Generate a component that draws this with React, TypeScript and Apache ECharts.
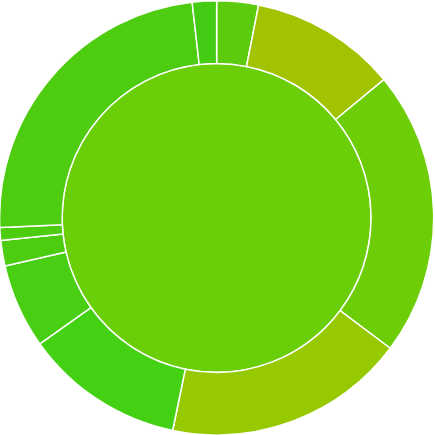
import React, { useEffect, useRef } from "react";
import * as echarts from "echarts";

const rootName = "Total";
const categories = ["A", "B", "C", "D", "E", "F", "G", "H", "I", "J"];
const values = [3.1, 10.9, 21.25, 18.0, 11.9, 6.3, 1.9, 0.95, 23.9, 1.8];
const ringColors = [
  "#5dcb0d",
  "#a1c300",
  "#6dcd07",
  "#96c900",
  "#44d013",
  "#48ce12",
  "#4ccd10",
  "#4ccd10",
  "#4ecc10",
  "#44cb13",
];
const rootColor = "#6acf08";

export default function App() {
  const ref = useRef<HTMLDivElement>(null);
  useEffect(() => {
    if (!ref.current) return;
    const chart = echarts.init(ref.current, undefined, { renderer: "svg" });
    const total = values.reduce((a, b) => a + b, 0);
    const center = ["49.8%", "50.1%"];
    chart.setOption({
      animation: false,
      series: [
        {
          type: "pie",
          radius: [0, "71%"],
          center,
          startAngle: 90,
          clockwise: true,
          label: { show: false },
          labelLine: { show: false },
          silent: true,
          itemStyle: { borderColor: "#fff", borderWidth: 1.5 },
          data: [{ name: rootName, value: total, itemStyle: { color: rootColor } }],
        },
        {
          type: "pie",
          radius: ["71%", "99.8%"],
          center,
          startAngle: 90,
          clockwise: true,
          avoidLabelOverlap: false,
          label: { show: false },
          labelLine: { show: false },
          silent: true,
          itemStyle: { borderColor: "#fff", borderWidth: 1.5 },
          data: categories.map((c, i) => ({
            name: c,
            value: values[i],
            itemStyle: { color: ringColors[i] },
          })),
        },
      ],
    });
    return () => chart.dispose();
  }, []);
  return (
    <div
      ref={ref}
      style={{ position: "fixed", left: 0, top: 0, width: 435, height: 435 }}
    />
  );
}
